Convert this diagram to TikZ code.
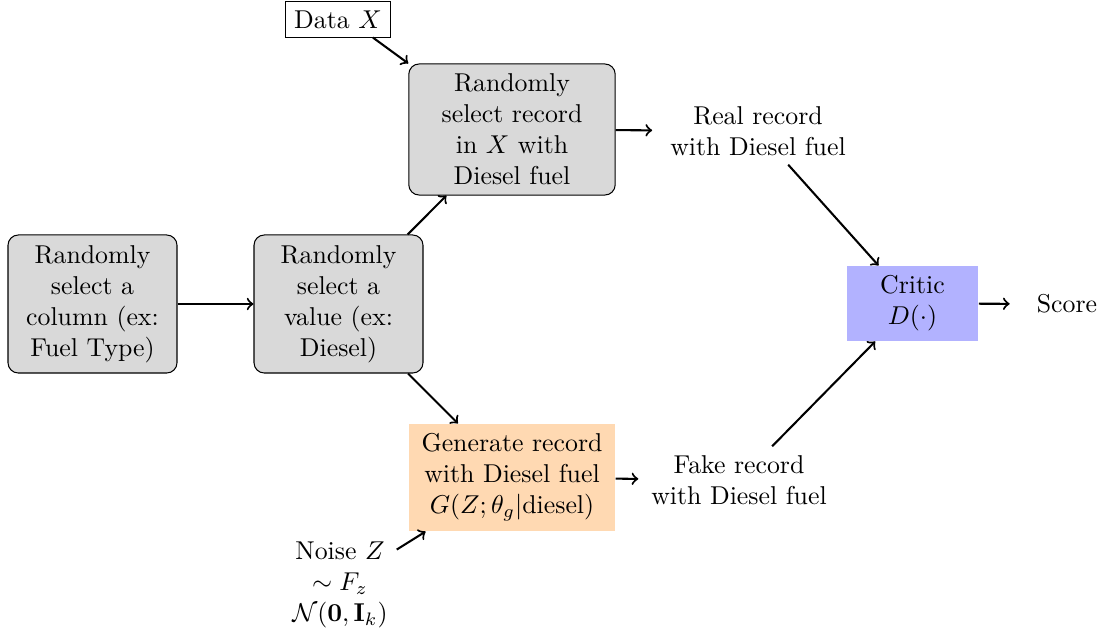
\documentclass[tikz,border=0pt]{standalone}
\usepackage{amsmath}
\usetikzlibrary{calc}
\begin{document}
\begin{tikzpicture}[x=0.3876pt,y=-0.3876pt,
  graybox/.style={draw,rounded corners=4pt,fill=black!15,align=center,line width=0.4pt},
  plain/.style={align=center},
  arr/.style={->,thick}]
\useasboundingbox (0,0) rectangle (1102,634);
\node[graybox,minimum width=65.5pt,minimum height=53.5pt] (col) at (92.5,304) {Randomly\\select a\\column (ex:\\Fuel Type)};
\node[graybox,minimum width=65.5pt,minimum height=53.5pt] (val) at (338.5,304) {Randomly\\select a\\value (ex:\\Diesel)};
\node[graybox,minimum width=80pt,minimum height=50.8pt] (rec) at (512,129.5) {Randomly\\select record\\in $X$ with\\Diesel fuel};
\node[fill=orange!30,align=center,minimum width=80pt,minimum height=41.5pt] (gen) at (512,477.5) {Generate record\\with Diesel fuel\\$G(Z;\theta_g|\text{diesel})$};
\node[draw,line width=0.4pt] (data) at (338,19.5) {Data $X$};
\node[plain] (real) at (758,131) {Real record\\with Diesel fuel};
\node[plain] (fake) at (739,480) {Fake record\\with Diesel fuel};
\node[fill=blue!30,align=center,minimum width=51pt,minimum height=29pt] (critic) at (912.5,303.5) {Critic\\$D(\cdot)$};
\node[plain] (score) at (1067,304) {Score};
\node[plain] (noise) at (340,585) {Noise $Z$\\$\sim F_z$\\$\mathcal{N}(\mathbf{0},\mathbf{I}_k)$};
\draw[arr] (col) -- (val);
\draw[arr] (val) -- (rec);
\draw[arr] (val) -- (gen);
\draw[arr] ($(data.south east)+(-18,0)$) -- (rec.north west);
\draw[arr,shorten >=3.5pt] (rec) -- (real);
\draw[arr,shorten >=1.5pt] (gen) -- (fake);
\draw[arr] (noise) -- (gen);
\draw[arr] (real) -- (critic);
\draw[arr] (fake) -- (critic);
\draw[arr,shorten >=7pt] (critic) -- (score);
\end{tikzpicture}
\end{document}
